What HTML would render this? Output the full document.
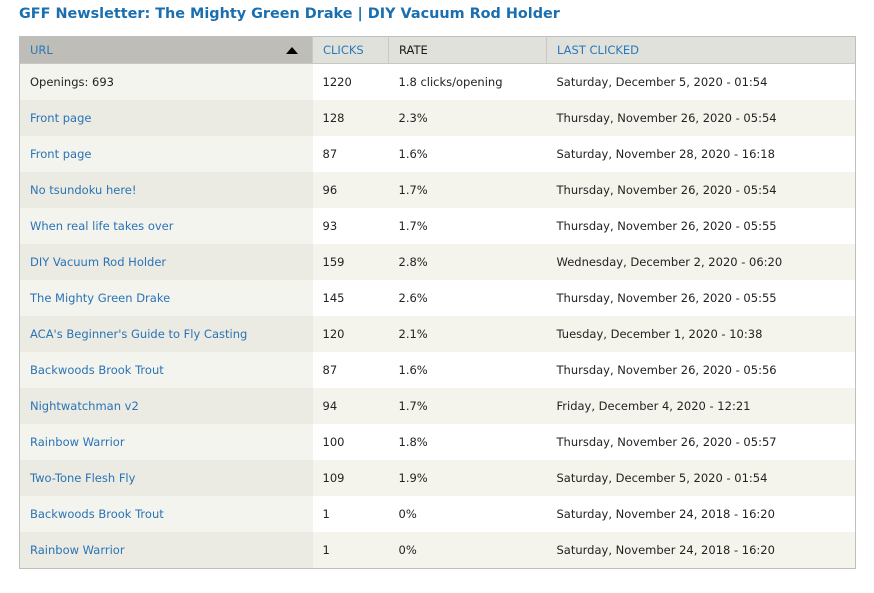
<!DOCTYPE html>
<html><head><meta charset="utf-8"><style>
body{margin:0;width:874px;height:593px;background:#fff;font-family:"DejaVu Sans","Liberation Sans",sans-serif;position:relative;overflow:hidden}
h1{position:absolute;left:19px;top:6px;margin:0;font-size:14.4px;font-weight:bold;color:#1a6fb0;letter-spacing:0}
table{position:absolute;left:19px;top:36px;border-collapse:collapse;border:1px solid #bebebe;font-size:11.5px;color:#222}
th{height:26px;background:#e1e1dc;font-weight:normal;text-align:left;padding:0 0 0 10px;border-left:1px solid #c8c8c4;border-bottom:1px solid #c9c9c4;color:#1a1a1a;font-size:11.5px}
th.a{color:#2a78b8}
th.s{background:#bebdb8;border-left:none;position:relative}
td{height:36px;padding:0 0 0 10px;white-space:nowrap}
tr.o td{background:#fff}tr.o td.u{background:#f4f4ef}
tr.e td{background:#f4f4ed}tr.e td.u{background:#ebebe3}
a{color:#2a73b5;text-decoration:none}
.tri{position:absolute;right:14px;top:10px;width:0;height:0;border-left:6px solid transparent;border-right:6px solid transparent;border-bottom:7px solid #000}
</style></head><body>
<h1>GFF Newsletter: The Mighty Green Drake | DIY Vacuum Rod Holder</h1>
<table>
<colgroup><col style="width:293px"><col style="width:76px"><col style="width:158px"><col style="width:309px"></colgroup>
<tr><th class="a s">URL<span class="tri"></span></th><th class="a">CLICKS</th><th>RATE</th><th class="a">LAST CLICKED</th></tr>
<tr class="o"><td class="u">Openings: 693</td><td>1220</td><td>1.8 clicks/opening</td><td>Saturday, December 5, 2020 - 01:54</td></tr>
<tr class="e"><td class="u"><a>Front page</a></td><td>128</td><td>2.3%</td><td>Thursday, November 26, 2020 - 05:54</td></tr>
<tr class="o"><td class="u"><a>Front page</a></td><td>87</td><td>1.6%</td><td>Saturday, November 28, 2020 - 16:18</td></tr>
<tr class="e"><td class="u"><a>No tsundoku here!</a></td><td>96</td><td>1.7%</td><td>Thursday, November 26, 2020 - 05:54</td></tr>
<tr class="o"><td class="u"><a>When real life takes over</a></td><td>93</td><td>1.7%</td><td>Thursday, November 26, 2020 - 05:55</td></tr>
<tr class="e"><td class="u"><a>DIY Vacuum Rod Holder</a></td><td>159</td><td>2.8%</td><td>Wednesday, December 2, 2020 - 06:20</td></tr>
<tr class="o"><td class="u"><a>The Mighty Green Drake</a></td><td>145</td><td>2.6%</td><td>Thursday, November 26, 2020 - 05:55</td></tr>
<tr class="e"><td class="u"><a>ACA's Beginner's Guide to Fly Casting</a></td><td>120</td><td>2.1%</td><td>Tuesday, December 1, 2020 - 10:38</td></tr>
<tr class="o"><td class="u"><a>Backwoods Brook Trout</a></td><td>87</td><td>1.6%</td><td>Thursday, November 26, 2020 - 05:56</td></tr>
<tr class="e"><td class="u"><a>Nightwatchman v2</a></td><td>94</td><td>1.7%</td><td>Friday, December 4, 2020 - 12:21</td></tr>
<tr class="o"><td class="u"><a>Rainbow Warrior</a></td><td>100</td><td>1.8%</td><td>Thursday, November 26, 2020 - 05:57</td></tr>
<tr class="e"><td class="u"><a>Two-Tone Flesh Fly</a></td><td>109</td><td>1.9%</td><td>Saturday, December 5, 2020 - 01:54</td></tr>
<tr class="o"><td class="u"><a>Backwoods Brook Trout</a></td><td>1</td><td>0%</td><td>Saturday, November 24, 2018 - 16:20</td></tr>
<tr class="e"><td class="u"><a>Rainbow Warrior</a></td><td>1</td><td>0%</td><td>Saturday, November 24, 2018 - 16:20</td></tr>
</table>
</body></html>
